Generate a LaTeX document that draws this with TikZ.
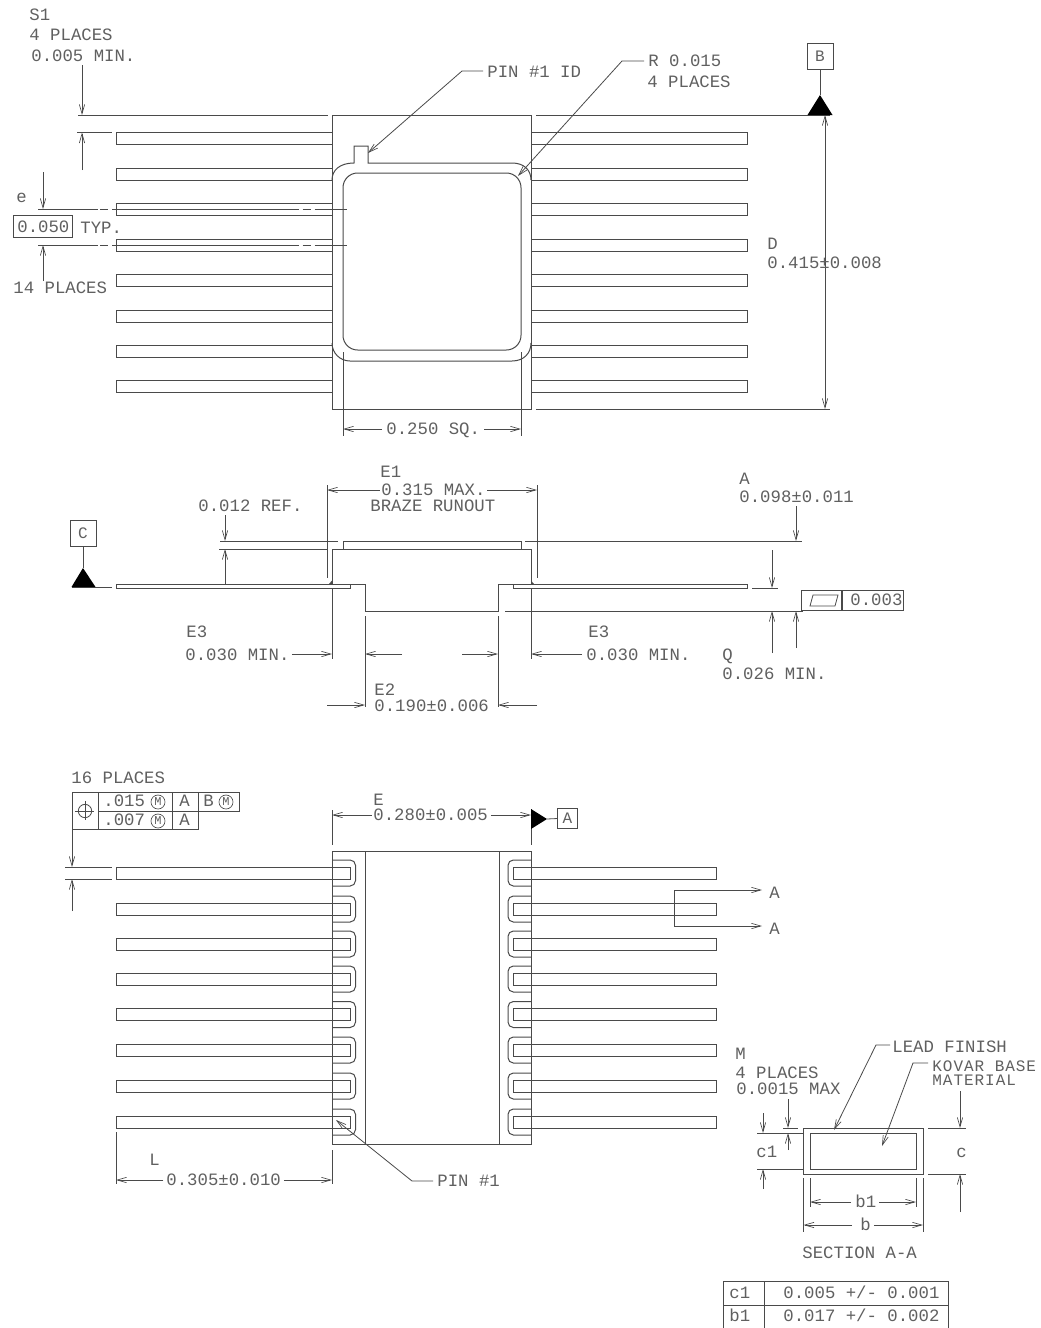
\documentclass[tikz,border=0pt]{standalone}
\usepackage{fontspec}
\setmainfont{Liberation Mono}
\usetikzlibrary{arrows.meta}
\definecolor{ink}{HTML}{4A4A4A}
\definecolor{txt}{HTML}{606060}
\newcommand{\lab}[4]{\node[lbl] (#1) at (#2,#3) {#4};}
\tikzset{
  lbl/.style={anchor=mid west,inner sep=0pt,yshift=-1.5pt,text=txt,font=\fontsize{13}{13}\selectfont},
  lbltight/.style={lbl,font=\fontsize{12}{12}\selectfont\addfontfeatures{LetterSpace=6}},
  refbox/.style={draw=ink,line width=0.6pt,minimum width=19.5pt,minimum height=19.5pt,inner sep=0pt,text=txt,font=\fontsize{12}{12}\selectfont},
  circm/.style={draw=ink,line width=0.5pt,circle,minimum size=10.5pt,inner sep=0pt,text=txt,font=\fontsize{9}{9}\selectfont},
  dim/.style={-{Straight Barb[length=7pt,width=4pt,line width=0.5pt]}},
  dimb/.style={{Straight Barb[length=7pt,width=4pt,line width=0.5pt]}-{Straight Barb[length=7pt,width=4pt,line width=0.5pt]}},
  part/.style={line width=0.75pt},
  thin line/.style={line width=0.6pt},
  centre/.style={line width=0.6pt,dash pattern=on 140pt off 3pt on 6pt off 3pt,dash phase=143pt}
}
\begin{document}
\begin{tikzpicture}[x=0.75pt,y=-0.75pt,draw=ink,line width=0.6pt]
\useasboundingbox[fill=white] (0,0) rectangle (1041,1328);

%%% TOP VIEW
\foreach \y in {132.5,168,203.5,239,274,310,345,380}{
  \draw[part] (332,\y) -- (116,\y) -- (116,\y+12) -- (332,\y+12);
  \draw[part] (531,\y) -- (747,\y) -- (747,\y+12) -- (531,\y+12);
}
\draw[part] (332,115) rectangle (531,409);
\draw[part,rounded corners=11pt] (343,173) rectangle (521,350);
\draw[part] (332,180) .. controls (332,170) and (340,163) .. (354,163) -- (354,146) -- (368,146) -- (368,163) -- (512,163) .. controls (524,163) and (531,170) .. (531,180);
\draw[part] (332,343) .. controls (332,353) and (340,361) .. (350,361) -- (512,361) .. controls (524,361) and (531,353) .. (531,343);
% extension lines
\draw (78,115) -- (328,115);
\draw (536,115) -- (830,115);
\draw (536,409) -- (830,409);
\draw (77,132.5) -- (112,132.5);
\draw (38,209) -- (98,209);
\draw (38,245) -- (98,245);
\draw[centre] (100,209) -- (347,209);
\draw[centre] (100,245) -- (347,245);
\draw (343,352) -- (343,436);
\draw (521,352) -- (521,436);
% dimensions
\lab{sa}{29}{15}{S1}
\lab{sb}{29}{35}{4 PLACES}
\lab{sc}{31}{56}{0.005 MIN.}
\draw[dim] (82,65) -- (82,115);
\draw[dim] (82,170) -- (82,132.5);
\lab{e}{16}{197}{e}
\node[draw=ink,thin line,minimum width=44pt,minimum height=16.5pt,inner sep=0pt] (pitch) at (43,226.5) {};
\lab{pitchv}{17}{227}{0.050}
\lab{typ}{80}{228}{TYP.}
\lab{fourteen}{13}{288}{14 PLACES}
\draw[dim] (43,172) -- (43,209);
\draw[dim] (43,281) -- (43,245);
\lab{pinid}{487}{72}{PIN \#1 ID}
\draw[dim] ([xshift=-3pt]pinid.west |- 462,71) -- (462,71) -- (368,153);
\lab{radius}{648}{61}{R 0.015}
\lab{radiusb}{647}{82}{4 PLACES}
\draw[dim] ([xshift=-3pt]radius.west |- 622,61) -- (622,61) -- (518,176);
\node[refbox] (boxB) at (820,56) {B};
\coordinate (triB) at (820,95);
\draw (boxB.south) -- (triB);
\fill[black] (triB) -- (807.5,115) -- (832.5,115) -- cycle;
\draw[dimb] (825,115) -- (825,409);
\lab{dd}{767}{244}{D}
\lab{dv}{767}{263}{0.415±0.008}
\lab{sq}{386}{429}{0.250 SQ.}
\draw[dim] ([xshift=-3pt]sq.west |- 343,429) -- (343,429);
\draw[dim] ([xshift=3pt]sq.east |- 521,429) -- (521,429);

%%% SIDE VIEW
\draw[part] (116,584) rectangle (350,588);
\draw[part] (513,584) rectangle (747,588);
\draw[part] (350,584) -- (365,584) -- (365,611) -- (498,611) -- (498,584) -- (513,584);
\draw[part] (332,584) -- (332,549) -- (531,549) -- (531,584);
\draw[part] (343,549) -- (343,541) -- (521,541) -- (521,549);
\fill[ink] (329,584) -- (332,580.5) -- (332,584) -- cycle;
\fill[ink] (534,584) -- (531,580.5) -- (531,584) -- cycle;
% extension lines
\draw (327,485) -- (327,578);
\draw (537,485) -- (537,578);
\draw (220,541) -- (338,541);
\draw (525,541) -- (802,541);
\draw (219,549) -- (327,549);
\draw (505,611) -- (803,611);
\draw (752,588) -- (778,588);
\draw (72,587.5) -- (112,587.5);
\draw (332,588) -- (332,659);
\draw (531,588) -- (531,659);
\draw (365,616) -- (365,707);
\draw (498,616) -- (498,707);
% dimensions
\lab{ea}{380}{472}{E1}
\lab{eb}{381}{490}{0.315 MAX.}
\lab{ec}{370}{506}{BRAZE RUNOUT}
\draw[dim] ([xshift=-1pt]eb.west |- 327,490) -- (327,490);
\draw[dim] ([xshift=1pt]eb.east |- 537,490) -- (537,490);
\lab{ref}{198}{506}{0.012 REF.}
\draw[dim] (225,515) -- (225,541);
\draw[dim] (225,584) -- (225,549);
\node[refbox] (boxC) at (83,533.5) {C};
\coordinate (triC) at (83,568);
\draw (boxC.south) -- (triC);
\fill[black] (triC) -- (71.5,587) -- (95.5,587) -- cycle;
\lab{aa}{739}{479}{A}
\lab{ab}{739}{497}{0.098±0.011}
\draw[dim] (796,506) -- (796,541);
\draw[dim] (772,550) -- (772,588);
\draw[dim] (772,653) -- (772,611);
\draw[dim] (796,648) -- (796,611);
\node[draw=ink,thin line,minimum width=30pt,minimum height=15.5pt,inner sep=0pt] (flatsym) at (821.5,600.5) {};
\draw (810,606) -- (835,606) -- (838,595) -- (813,595) -- cycle;
\node[draw=ink,thin line,minimum width=46pt,minimum height=15.5pt,inner sep=0pt,anchor=west] (flatbox) at (flatsym.east) {};
\lab{flatval}{850}{600}{0.003}
\lab{el}{186}{632}{E3}
\lab{elb}{185}{655}{0.030 MIN.}
\draw[dim] ([xshift=1.5pt]elb.east |- 332,654) -- (332,654);
\lab{er}{588}{632}{E3}
\lab{erb}{586}{655}{0.030 MIN.}
\draw[dim] ([xshift=-3pt]erb.west |- 531,654) -- (531,654);
\lab{qa}{722}{655}{Q}
\lab{qb}{722}{674}{0.026 MIN.}
\coordinate (ea1) at (402,654);
\coordinate (ea2) at (462,654);
\draw[dim] (ea1) -- (365,654);
\draw[dim] (ea2) -- (498,654);
\lab{ed}{374}{690}{E2}
\lab{ee}{374}{706}{0.190±0.006}
\draw[dim] (327,705) -- (365,705);
\draw[dim] (537,705) -- (498,705);

%%% BOTTOM VIEW
\draw[part] (332,851) -- (531,851);
\draw[part] (332,1144.5) -- (531,1144.5);
\draw[part] (332,851) -- (332,1144.5);
\draw[part] (531,851) -- (531,1144.5);
\draw[part] (365,851) -- (365,1144.5);
\draw[part] (499,851) -- (499,1144.5);
\foreach \y in {867,903,938,973,1008.5,1044,1080,1116}{
  \draw[part] (116,\y) rectangle (350,\y+12);
  \draw[part] (513,\y) rectangle (716,\y+12);
  \draw[part,rounded corners=4pt] (332,\y-7) -- (355.5,\y-7) -- (355.5,\y+19) -- (332,\y+19);
  \draw[part,rounded corners=4pt] (531,\y-7) -- (508,\y-7) -- (508,\y+19) -- (531,\y+19);
}
% feature control frame
\lab{sixteen}{71}{778}{16 PLACES}
\draw (72,792) rectangle (172.5,829.5);
\draw (98,792) -- (98,829.5);
\draw (98,811) -- (239,811) -- (239,792) -- (172.5,792);
\draw (172.5,811) -- (198,811);
\draw (198,792) -- (198,829.5) -- (172.5,829.5);
\node[circle,draw=ink,thin line,minimum size=10pt,inner sep=0pt] (posn) at (85,811) {};
\draw (posn.north) ++(0,-3) -- ++(0,19);
\draw (posn.west) ++(-3,0) -- ++(19,0);
\lab{fa}{103}{801}{.015}
\node[circm] (ma) at (158,802) {M};
\lab{fb}{179}{801}{A}
\lab{fc}{203}{801}{B}
\node[circm] (mb) at (226,802) {M};
\lab{fd}{103}{820}{.007}
\node[circm] (mc) at (158,821) {M};
\lab{fe}{179}{820}{A}
\draw[dim] (72,829.5) -- (72,867);
\draw[dim] (72,911) -- (72,879);
\draw (65,867) -- (112,867);
\draw (65,879) -- (112,879);
% width E
\draw (332,810) -- (332,845);
\lab{ga}{373}{800}{E}
\lab{gb}{373}{815}{0.280±0.005}
\draw[dim] ([xshift=-1pt]gb.west |- 332,815) -- (332,815);
\draw[dim] ([xshift=2pt]gb.east |- 531,815) -- (531,815);
\draw (531,809) -- (531,845);
\fill[black] (531,809) -- (531,829) -- (547,819) -- cycle;
\node[refbox,minimum width=14.5pt,minimum height=15.5pt] (boxA) at (567.5,818.5) {A};
\draw (547,819) -- (boxA.west);
% section marker
\lab{sa1}{769}{893}{A}
\lab{sa2}{769}{929}{A}
\coordinate (secturn) at (674,890);
\draw[dim] (secturn) -- (762,890);
\draw[dim] (secturn) -- (674,926) -- (762,926);
% L and pin 1
\draw (116,1132) -- (116,1184);
\draw (332,1150) -- (332,1184);
\lab{la}{149}{1160}{L}
\lab{lb}{166}{1180}{0.305±0.010}
\draw[dim] ([xshift=-2pt]lb.west |- 116,1180) -- (116,1180);
\draw[dim] ([xshift=2pt]lb.east |- 332,1180) -- (332,1180);
\lab{pinb}{437}{1181}{PIN \#1}
\draw[dim] ([xshift=-3pt]pinb.west |- 412,1181) -- (412,1181) -- (336,1120);

%%% SECTION A-A
\draw[part] (803.5,1128) rectangle (923,1174);
\draw[part] (810,1133) rectangle (916,1169);
\lab{ha}{892}{1047}{LEAD FINISH}
\draw[dim] ([xshift=-1.5pt]ha.west |- 876,1045) -- (876,1045) -- (834,1130);
\node[lbltight] (hb) at (932,1065.5) {KOVAR BASE};
\node[lbltight] (hc) at (932,1080) {MATERIAL};
\draw[dim] ([xshift=-3pt]hb.west |- 913,1063) -- (913,1063) -- (882,1146);
\lab{ma1}{735}{1054}{M}
\lab{ma2}{735}{1073}{4 PLACES}
\lab{ma3}{736}{1089}{0.0015 MAX}
\draw (757,1133) -- (803,1133);
\draw (757,1169) -- (803,1169);
\draw (783,1128) -- (798,1128);
\draw (928,1128) -- (966,1128);
\draw (928,1174) -- (966,1174);
\draw[dim] (763,1113) -- (763,1133);
\draw[dim] (763,1189) -- (763,1169);
\draw[dim] (788,1099) -- (788,1128);
\draw[dim] (788,1150) -- (788,1133);
\draw[dim] (960,1091) -- (960,1128);
\draw[dim] (960,1212) -- (960,1174);
\lab{ca}{756}{1152}{c1}
\lab{cb}{956}{1152}{c}
\draw (810,1178) -- (810,1207);
\draw (916,1178) -- (916,1207);
\draw (803.5,1178) -- (803.5,1232);
\draw (923,1178) -- (923,1232);
\lab{ba}{855}{1202}{b1}
\lab{bb}{860}{1225}{b}
\draw[dim] ([xshift=-3pt]ba.west |- 810,1202) -- (810,1202);
\draw[dim] ([xshift=2pt]ba.east |- 916,1202) -- (916,1202);
\draw[dim] ([xshift=-6pt]bb.west |- 803.5,1225) -- (803.5,1225);
\draw[dim] ([xshift=2pt]bb.east |- 923,1225) -- (923,1225);
\lab{sect}{802}{1253}{SECTION A-A}
% table
\draw (723,1328) -- (723,1281) -- (948,1281) -- (948,1328);
\draw (723,1305) -- (948,1305);
\draw (764,1281) -- (764,1328);
\lab{ta}{729}{1293}{c1}
\lab{tb}{783}{1293}{0.005 +/- 0.001}
\lab{tc}{729}{1316}{b1}
\lab{td}{783}{1316}{0.017 +/- 0.002}
\end{tikzpicture}
\end{document}
